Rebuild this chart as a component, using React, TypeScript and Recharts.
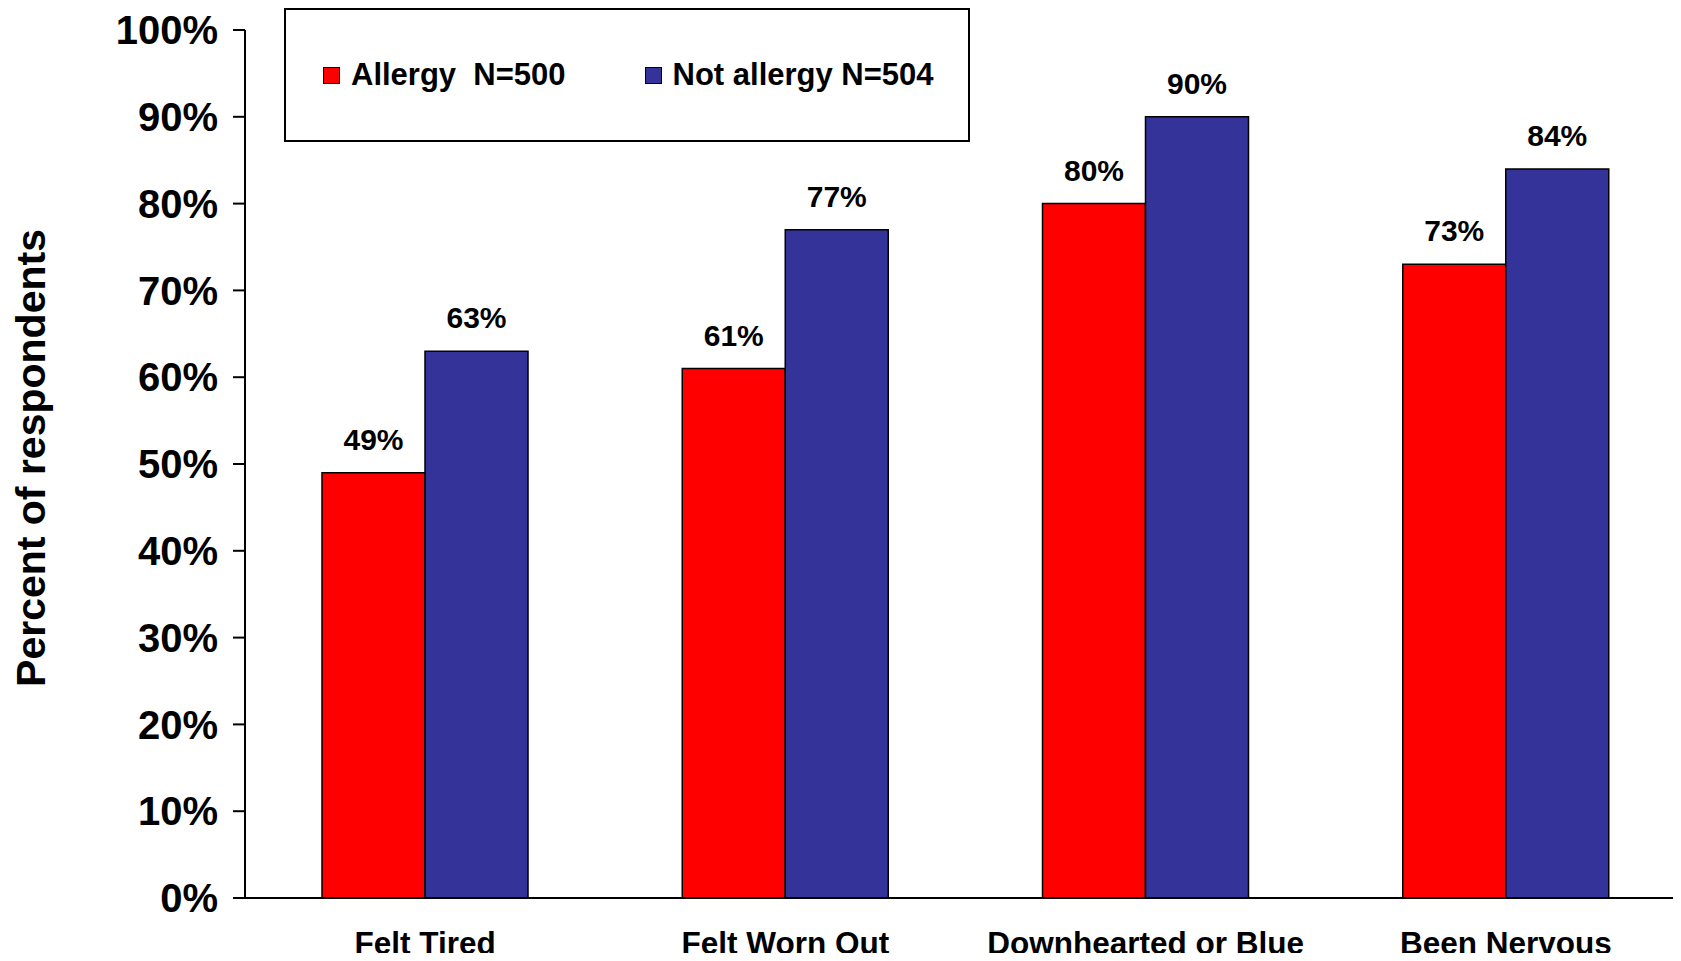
import { Bar, BarChart, LabelList, Legend, XAxis, YAxis } from "recharts";

const categories = ["Felt Tired", "Felt Worn Out", "Downhearted or Blue", "Been Nervous"];
const allergy = [49, 61, 80, 73];
const notAllergy = [63, 77, 90, 84];
const yTicks = [0, 10, 20, 30, 40, 50, 60, 70, 80, 90, 100];

const series = [
  { key: "allergy", label: "Allergy  N=500", color: "#ff0000" },
  { key: "notAllergy", label: "Not allergy N=504", color: "#333399" },
];

const data = categories.map((name, i) => ({
  name,
  allergy: allergy[i],
  notAllergy: notAllergy[i],
}));

const FONT = '"Liberation Sans", Arial, sans-serif';

function LegendBox() {
  return (
    <div
      style={{
        boxSizing: "border-box",
        width: 686,
        height: 134,
        border: "2px solid #000",
        background: "#fff",
        display: "flex",
        alignItems: "center",
        paddingLeft: 37,
        fontFamily: FONT,
        fontWeight: 700,
        fontSize: 31,
        color: "#000",
      }}
    >
      {series.map((s, i) => (
        <span
          key={s.key}
          style={{ display: "flex", alignItems: "center", marginRight: i === 0 ? 79 : 0 }}
        >
          <span
            style={{
              boxSizing: "border-box",
              width: 17,
              height: 17,
              background: s.color,
              border: "1.5px solid #000",
              marginRight: 11,
            }}
          />
          <span style={{ whiteSpace: "pre" }}>{s.label}</span>
        </span>
      ))}
    </div>
  );
}

function YLabel({ viewBox }: any) {
  const cx = 31;
  const cy = viewBox.y + viewBox.height / 2 - 6;
  return (
    <text
      x={cx}
      y={cy}
      transform={`rotate(-90 ${cx} ${cy})`}
      textAnchor="middle"
      dominantBaseline="central"
      fontFamily={FONT}
      fontWeight={700}
      fontSize={41}
      fill="#000"
    >
      Percent of respondents
    </text>
  );
}

export default function App() {
  return (
    <div style={{ margin: -8, width: 1681, height: 961, overflow: "hidden", background: "#fff" }}>
      <BarChart
        width={1690}
        height={961}
        data={data}
        margin={{ top: 30, right: 4, left: 0, bottom: 0 }}
        barGap={0}
        barSize={103}
      >
        <XAxis
          dataKey="name"
          height={63}
          stroke="#000"
          strokeWidth={2}
          tickLine={false}
          tickSize={0}
          tickMargin={34}
          tick={{ fontFamily: FONT, fontWeight: 700, fontSize: 31.5, fill: "#000" }}
        />
        <YAxis
          width={245}
          domain={[0, 100]}
          ticks={yTicks}
          tickFormatter={(v) => `${v}%`}
          stroke="#000"
          strokeWidth={2}
          tickSize={12}
          tickMargin={15}
          tick={{ fontFamily: FONT, fontWeight: 700, fontSize: 40, fill: "#000" }}
          label={<YLabel />}
        />
        <Legend
          layout="horizontal"
          verticalAlign="middle"
          wrapperStyle={{ top: 8, left: 284, width: 686, height: 134 }}
          content={() => <LegendBox />}
        />
        {series.map((s) => (
          <Bar
            key={s.key}
            dataKey={s.key}
            name={s.label}
            fill={s.color}
            stroke="#000"
            strokeWidth={1.5}
            isAnimationActive={false}
          >
            <LabelList
              dataKey={s.key}
              position="top"
              offset={23}
              formatter={(v: any) => `${v}%`}
              style={{ fontFamily: FONT, fontWeight: 700, fontSize: 30, fill: "#000" }}
            />
          </Bar>
        ))}
      </BarChart>
    </div>
  );
}
